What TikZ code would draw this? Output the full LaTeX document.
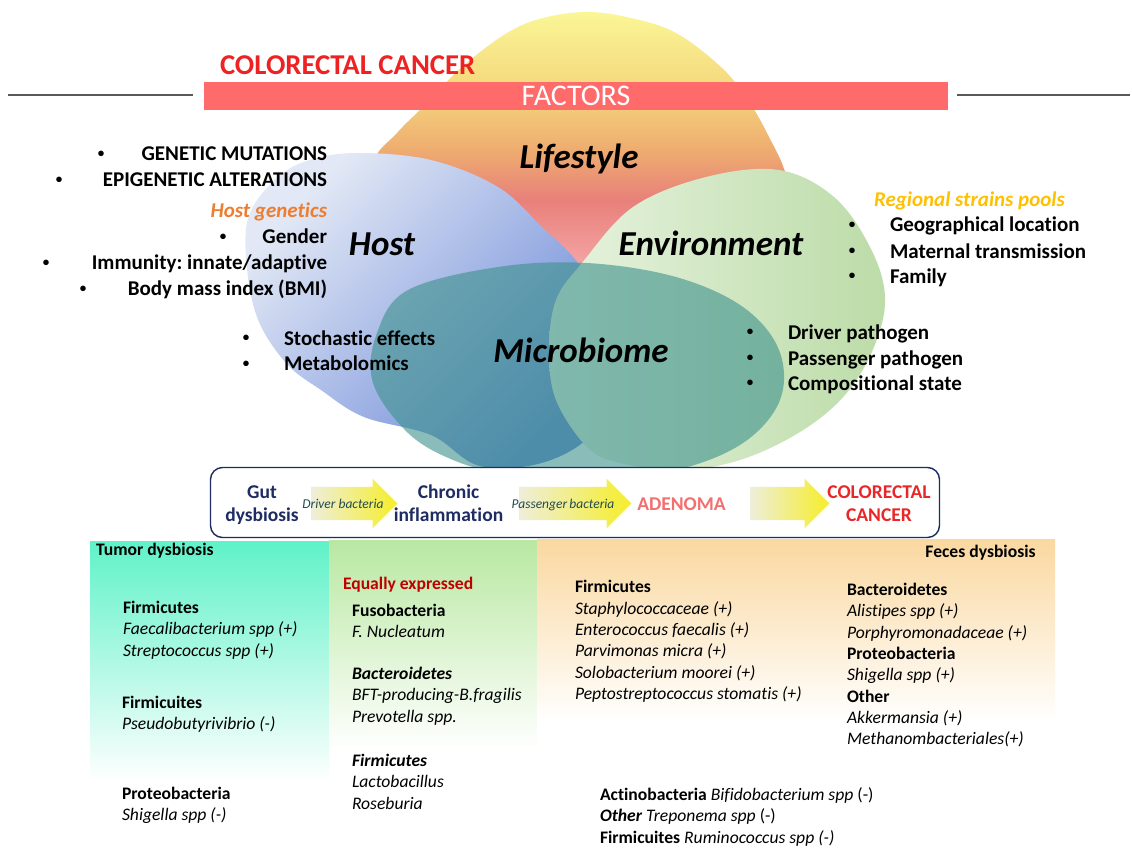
\documentclass[tikz,border=0pt]{standalone}
\usepackage{fontspec}
\setmainfont{Carlito}[Ligatures=NoCommon]
\usetikzlibrary{shapes.arrows}
\frenchspacing
\definecolor{lsA}{RGB}{250,246,150}
\definecolor{lsB}{RGB}{245,215,125}
\definecolor{lsC}{RGB}{238,172,112}
\definecolor{lsD}{RGB}{232,128,122}
\definecolor{lsE}{RGB}{243,162,162}
\definecolor{lsF}{RGB}{245,178,178}
\definecolor{hostA}{RGB}{226,232,245}
\definecolor{hostB}{RGB}{105,135,215}
\definecolor{envA}{RGB}{232,243,224}
\definecolor{envB}{RGB}{188,220,168}
\definecolor{microC}{RGB}{60,145,140}
\definecolor{barred}{RGB}{255,106,106}
\definecolor{titred}{RGB}{238,34,34}
\definecolor{hgorange}{RGB}{237,125,49}
\definecolor{rgold}{RGB}{255,192,0}
\definecolor{flownavy}{RGB}{30,44,98}
\definecolor{adenoma}{RGB}{242,112,112}
\definecolor{crcred}{RGB}{232,40,40}
\definecolor{arrA}{RGB}{238,238,218}
\definecolor{arrB}{RGB}{246,238,40}
\definecolor{arrlbl}{RGB}{35,75,75}
\definecolor{tumA}{RGB}{95,242,200}
\definecolor{grnA}{RGB}{185,232,162}
\definecolor{fecA}{RGB}{250,216,160}
\definecolor{eqred}{RGB}{192,0,0}
\pgfdeclareverticalshading{lifeshade}{100bp}{color(0bp)=(lsF); color(25bp)=(lsF); color(34.7bp)=(lsE); color(44.5bp)=(lsD); color(52.6bp)=(lsC); color(62.3bp)=(lsB); color(75bp)=(lsA); color(100bp)=(lsA)}
\begin{document}
\begin{tikzpicture}[x=1pt,y=-1pt,
  every node/.style={inner sep=0pt,outer sep=0pt},
  bultxt/.style={font=\fontsize{21}{26}\selectfont\bfseries},
  dotb/.style={font=\fontsize{13}{15}\selectfont\bfseries, anchor=base},
  bigtxt/.style={font=\fontsize{35}{40}\selectfont\bfseries\itshape, anchor=base},
  flowtxt/.style={font=\fontsize{19.5}{23}\selectfont\bfseries, anchor=base},
  pantxt/.style={font=\fontsize{17.6}{21.3}\selectfont, align=left, anchor=north west},
  panhead/.style={font=\fontsize{17.6}{21.3}\selectfont\bfseries},
  arrlabel/.style={font=\fontsize{13.5}{15}\selectfont\itshape, text=arrlbl, anchor=base},
  blockarrow/.style={single arrow, single arrow head extend=8pt, inner xsep=0pt, inner ysep=16.5pt, minimum width=49pt, left color=arrA, right color=arrB, draw=none},
  hline/.style={draw=black!65, line width=1.6pt}]
\useasboundingbox (0,0) rectangle (1132,854);
\fill[white] (0,0) rectangle (1132,854);

% Venn shapes
\shade[shading=lifeshade] plot[smooth cycle, tension=0.6] coordinates {(587,12) (631,18) (676,33) (721,67) (748,100) (768,135) (786,175) (795,230) (745,290) (590,320) (440,292) (380,230) (373,165) (397,133) (425,105) (462,67) (507,33) (543,18)};
\shade[top color=hostA, bottom color=hostB, shading angle=45] plot[smooth cycle, tension=0.6] coordinates {(357,153) (431,160) (498,187) (542,227) (578,263) (605,310) (612,370) (595,430) (545,462) (480,466) (431,435) (364,417) (321,390) (286,363) (257,317) (246,257) (250,213) (278,177) (310,160)};
\shade[left color=envA, right color=envB] plot[smooth cycle, tension=0.6] coordinates {(706,177) (779,170) (834,197) (870,247) (885,297) (874,347) (845,395) (800,432) (740,460) (680,470) (620,463) (587,447) (556,400) (549,350) (556,300) (582,263) (633,207)};
\fill[microC, opacity=0.6] plot[smooth cycle, tension=0.6] coordinates {(498,267) (587,263) (676,277) (743,307) (779,350) (780,400) (743,443) (676,470) (587,480) (500,472) (453,460) (408,433) (373,383) (377,333) (408,290)};

% header
\node[fill=barred, minimum width=744pt, minimum height=28pt, text=white, font=\fontsize{30}{32}\selectfont] (bar) at (576,96) {FACTORS};
\coordinate (ll1) at (8,95);
\coordinate (ll2) at (193,95);
\coordinate (rl1) at (957,95);
\coordinate (rl2) at (1130,95);
\draw[hline] (ll1) -- (ll2);
\draw[hline] (rl1) -- (rl2);
\node[anchor=base west, font=\fontsize{28.7}{30}\selectfont\bfseries, text=titred] (title) at (220,74) {COLORECTAL CANCER};

% big labels
\node[bigtxt] (lifestyle) at (579,168) {Lifestyle};
\node[bigtxt] (host) at (382,255) {Host};
\node[bigtxt] (environment) at (711,255) {Environment};
\node[bigtxt] (microbiome) at (581,362) {Microbiome};

% left list
\node[bultxt, anchor=base east] (l1) at (327,160.5) {GENETIC MUTATIONS};
\node[dotb] (b1) at (101,157) {\textbullet};
\node[bultxt, anchor=base east] (l2) at (327,186.5) {EPIGENETIC ALTERATIONS};
\node[dotb] (b2) at (59,183) {\textbullet};
\node[bultxt, anchor=base east, text=hgorange, font=\fontsize{21}{26}\selectfont\bfseries\itshape] (hg) at (327,217.5) {Host genetics};
\node[bultxt, anchor=base east] (l3) at (327,243.5) {Gender};
\node[dotb] (b3) at (223,240) {\textbullet};
\node[bultxt, anchor=base east] (l4) at (327,269.5) {Immunity: innate/adaptive};
\node[dotb] (b4) at (46,266) {\textbullet};
\node[bultxt, anchor=base east] (l5) at (327,295.5) {Body mass index (BMI)};
\node[dotb] (b5) at (83,292) {\textbullet};

\node[bultxt, anchor=base west] (s1) at (284,345) {Stochastic effects};
\node[dotb] (bs1) at (246,341.5) {\textbullet};
\node[bultxt, anchor=base west] (s2) at (284,370.7) {Metabolomics};
\node[dotb] (bs2) at (246,367.2) {\textbullet};

% right lists
\node[bultxt, anchor=base west, text=rgold, font=\fontsize{21}{26}\selectfont\bfseries\itshape] (rsp) at (874,206.5) {Regional strains pools};
\node[bultxt, anchor=base west] (r1) at (890,231.7) {Geographical location};
\node[dotb] (br1) at (852,228.2) {\textbullet};
\node[bultxt, anchor=base west] (r2) at (890,258.3) {Maternal transmission};
\node[dotb] (br2) at (852,254.8) {\textbullet};
\node[bultxt, anchor=base west] (r3) at (890,283.3) {Family};
\node[dotb] (br3) at (852,279.8) {\textbullet};

\node[bultxt, anchor=base west] (m1) at (788,339.3) {Driver pathogen};
\node[dotb] (bm1) at (750,335.8) {\textbullet};
\node[bultxt, anchor=base west] (m2) at (788,365) {Passenger pathogen};
\node[dotb] (bm2) at (750,361.5) {\textbullet};
\node[bultxt, anchor=base west] (m3) at (788,390) {Compositional state};
\node[dotb] (bm3) at (750,386.5) {\textbullet};

% flow box
\node[draw=flownavy, line width=1.4pt, rounded corners=12pt, fill=white, minimum width=729pt, minimum height=70pt] (flow) at (575,502.5) {};
\node[flowtxt, text=flownavy] (gut1) at (262,498) {Gut};
\node[flowtxt, text=flownavy] (gut2) at (262,521.5) {dysbiosis};
\node[blockarrow, minimum height=86pt] (a1) at (346,503.5) {};
\node[arrlabel] (a1l) at (343,508) {Driver bacteria};
\node[flowtxt, text=flownavy] (chr1) at (448.5,498) {Chronic};
\node[flowtxt, text=flownavy] (chr2) at (448.5,521.5) {inflammation};
\node[blockarrow, minimum height=112pt] (a2) at (567,503.5) {};
\node[arrlabel] (a2l) at (563,508) {Passenger\,bacteria};
\node[flowtxt, text=adenoma] (aden) at (681.5,510) {ADENOMA};
\node[blockarrow, minimum height=79pt] (a3) at (781.5,503.5) {};
\node[flowtxt, text=crcred] (crc1) at (879,498) {COLORECTAL};
\node[flowtxt, text=crcred] (crc2) at (879,521.5) {CANCER};

% panels
\shade[top color=tumA, bottom color=white] (90,541) rectangle (329,782);
\shade[top color=grnA, bottom color=white] (329,540) rectangle (537,750);
\shade[top color=fecA, bottom color=white] (537,539) rectangle (1055,722);

% tumor panel
\node[panhead, anchor=base west] (tum0) at (96,555.5) {Tumor dysbiosis};
\node[pantxt] (tum1) at (123,598.6) {\strut\textbf{Firmicutes}\\\textit{Faecalibacterium spp (+)}\\\textit{Streptococcus spp (+)}};
\node[pantxt] (tum2) at (122,693.6) {\strut\textbf{Firmicuites}\\\textit{Pseudobutyrivibrio (-)}};
\node[pantxt] (tum3) at (122,784.6) {\strut\textbf{Proteobacteria}\\\textit{Shigella spp (-)}};

% equally expressed panel
\node[panhead, anchor=base west, text=eqred] (eq0) at (343,589.5) {Equally expressed};
\node[pantxt] (eq1) at (352,601.6) {\strut\textbf{Fusobacteria}\\\textit{F. Nucleatum}};
\node[pantxt] (eq2) at (352,664.6) {\strut\textbf{\textit{Bacteroidetes}}\\\textit{BFT-producing-B.fragilis}\\\textit{Prevotella spp.}};
\node[pantxt] (eq3) at (352,751.6) {\strut\textbf{\textit{Firmicutes}}\\\textit{Lactobacillus}\\\textit{Roseburia}};

% feces panel
\node[panhead, anchor=base east] (fe0) at (1035.6,557) {Feces dysbiosis};
\node[pantxt] (fe1) at (575,577.9) {\strut\textbf{Firmicutes}\\\textit{Staphylococcaceae (+)}\\\textit{Enterococcus faecalis (+)}\\\textit{Parvimonas micra (+)}\\\textit{Solobacterium moorei (+)}\\\textit{Peptostreptococcus stomatis (+)}};
\node[pantxt] (fe2) at (847,580.6) {\strut\textbf{Bacteroidetes}\\\textit{Alistipes spp (+)}\\\textit{Porphyromonadaceae (+)}\\\textbf{Proteobacteria}\\\textit{Shigella spp (+)}\\\textbf{Other}\\\textit{Akkermansia (+)}\\\textit{Methanombacteriales(+)}};
\node[pantxt] (fe3) at (600,785.6) {\strut\textbf{Actinobacteria} \textit{Bifidobacterium spp} (-)\\\textbf{\textit{Other}} \textit{Treponema spp} (-)\\\textbf{Firmicuites} \textit{Ruminococcus spp (-)}};
\end{tikzpicture}
\end{document}
